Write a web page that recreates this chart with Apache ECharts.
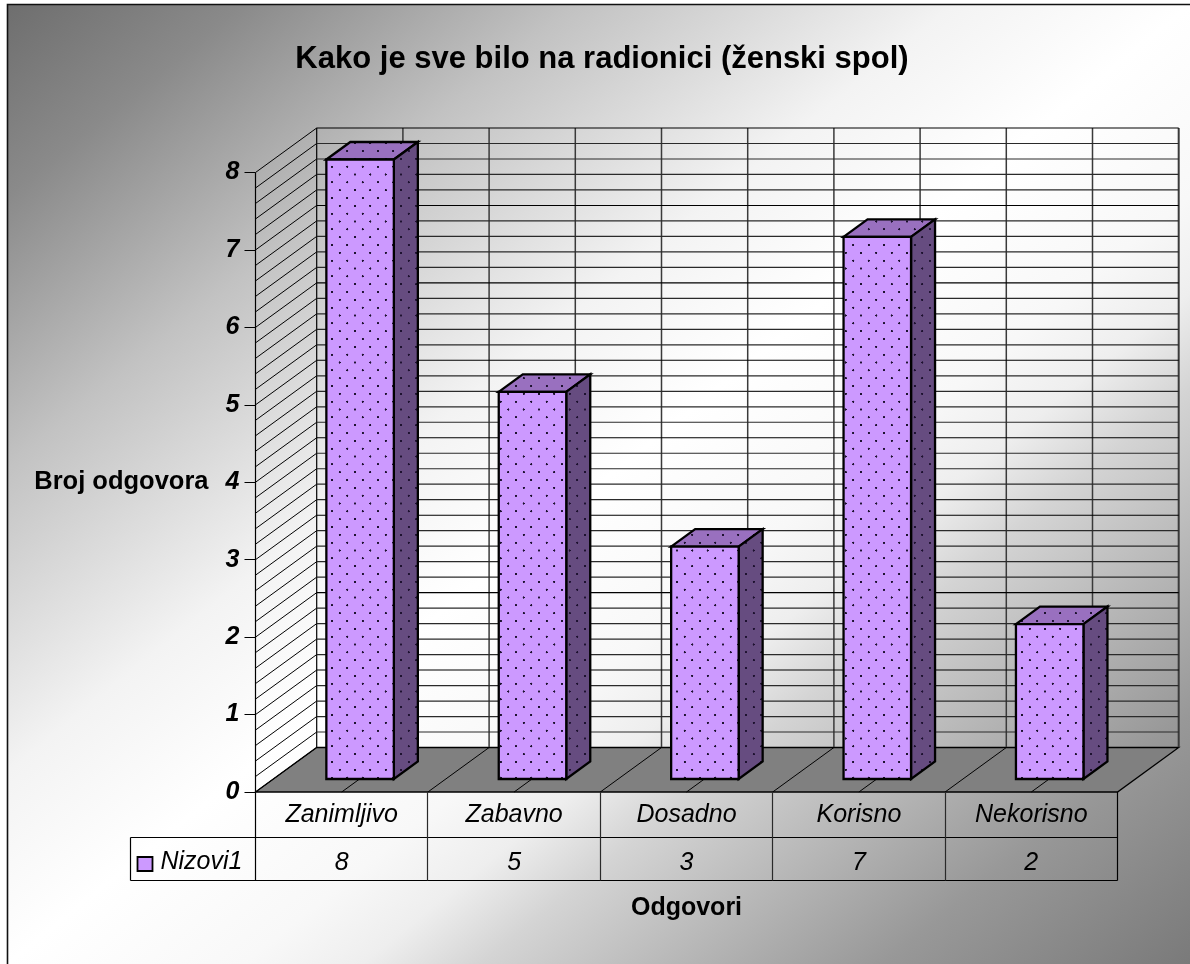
<!DOCTYPE html>
<html><head><meta charset="utf-8">
<style>html,body{margin:0;padding:0;background:#fff}#c{width:1190px;height:964px}</style>
<script src="https://cdn.jsdelivr.net/npm/echarts@6/dist/echarts.min.js"></script>
</head><body><div id="c"></div>
<script>
const titleText = 'Kako je sve bilo na radionici (ženski spol)';
const yAxisTitle = 'Broj odgovora';
const xAxisTitle = 'Odgovori';
const seriesName = 'Nizovi1';
const categories = ['Zanimljivo', 'Zabavno', 'Dosadno', 'Korisno', 'Nekorisno'];
const values = [8, 5, 3, 7, 2];
const yTicks = [0, 1, 2, 3, 4, 5, 6, 7, 8];
const minorPerUnit = 5;

const FONT = '"Liberation Sans", Arial, sans-serif';
const WALL = [61.2, -44.5], BAR_OFF = [18.4, -13], BAR_DEPTH = [24, -17.5], BAR_W = 67.5;
const ROW1 = 45.5, ROW2 = 88.5, KEY_LEFT = 130.5;

function dotted(base) {
  const c = document.createElement('canvas'); c.width = 46; c.height = 47;
  const g = c.getContext('2d');
  g.fillStyle = base; g.fillRect(0, 0, 46, 47);
  g.fillStyle = '#1e1230';
  [[6, 8], [29, 31.5]].forEach(p => { g.beginPath(); g.arc(p[0], p[1], 3.2, 0, 7); g.fill(); });
  return { image: c, repeat: 'repeat', scaleX: 1 / 3, scaleY: 1 / 3, x: 330, y: 164 };
}
const P_FRONT = dotted('#cc99ff'), P_SIDE = dotted('#664c80'), P_TOP = dotted('#9970bf');

function line(x1, y1, x2, y2, stroke, w) {
  return { type: 'line', silent: true, shape: { x1, y1, x2, y2 }, style: { stroke: stroke || '#000', lineWidth: w || 1 } };
}
function renderFrame(params, api) {
  const n = categories.length, kids = [];
  const o = api.coord([0, 0]), bw = api.size([1, 0])[0];
  const x0 = o[0] - bw / 2, y0 = o[1], x1 = x0 + bw * n;
  const top = api.coord([0, yTicks[yTicks.length - 1]])[1];
  kids.push({ type: 'polygon', silent: true, shape: { points: [[x0, y0], [x0 + WALL[0], y0 + WALL[1]], [x1 + WALL[0], y0 + WALL[1]], [x1, y0]] }, style: { fill: '#808080', stroke: '#000', lineWidth: 1.3 } });
  for (let i = 0; i <= n * 2; i++) {
    const x = x0 + bw * i / 2;
    if (i > 0 && i < n * 2) kids.push(line(x, y0, x + WALL[0], y0 + WALL[1], '#000', 1));
    kids.push(line(x + WALL[0], top + WALL[1], x + WALL[0], y0 + WALL[1], i === 0 ? '#000' : '#3a3a3a', i === 0 ? 1.2 : i === n * 2 ? 2 : 1.5));
  }
  const maxV = yTicks[yTicks.length - 1];
  for (let k = 0; k <= maxV * minorPerUnit; k++) {
    const y = api.coord([0, k / minorPerUnit])[1], major = k % minorPerUnit === 0;
    kids.push(line(x0, y, x0 + WALL[0], y + WALL[1], '#000', 1));
    kids.push(line(x0 + WALL[0], y + WALL[1], x1 + WALL[0], y + WALL[1], major ? '#000' : '#2a2a2a', major ? 1.1 : 1.2));
  }
  kids.push(line(x0, top, x0, y0, '#000', 1.2));
  kids.push(line(x0, y0 + ROW1, x1, y0 + ROW1, '#000', 1.2));
  kids.push(line(KEY_LEFT, y0 + ROW2, x1, y0 + ROW2, '#000', 1.2));
  kids.push(line(KEY_LEFT, y0 + ROW1, x0, y0 + ROW1, '#000', 1.2));
  kids.push(line(KEY_LEFT, y0 + ROW1, KEY_LEFT, y0 + ROW2, '#000', 1.2));
  for (let i = 0; i <= n; i++) {
    const x = Math.floor(x0 + bw * i) + .5;
    kids.push(line(x, y0, x, y0 + ROW2, i === 0 || i === n ? '#000' : '#2a2a2a', 1.2));
  }
  kids.push({ type: 'rect', silent: true, shape: { x: KEY_LEFT + 7, y: y0 + ROW1 + 19.5, width: 15, height: 14 }, style: { fill: '#cc99ff', stroke: '#000', lineWidth: 1.8 } });
  kids.push({ type: 'text', silent: true, x: KEY_LEFT + 30, y: y0 + ROW1 + 25, style: { text: seriesName, font: 'italic 25px ' + FONT, fill: '#000', verticalAlign: 'middle' } });
  return { type: 'group', children: kids };
}
function renderBar(params, api) {
  const base = api.coord([api.value(0), 0]), tip = api.coord([api.value(0), api.value(1)]);
  const l = base[0] + BAR_OFF[0] - BAR_W / 2, r = l + BAR_W;
  const b = base[1] + BAR_OFF[1], t = tip[1] + BAR_OFF[1];
  const dx = BAR_DEPTH[0], dy = BAR_DEPTH[1];
  const edge = { stroke: '#000', lineWidth: 2.3, lineJoin: 'miter' };
  return { type: 'group', children: [
    { type: 'polygon', shape: { points: [[l, t], [l + dx, t + dy], [r + dx, t + dy], [r, t]] }, style: Object.assign({ fill: P_TOP }, edge) },
    { type: 'polygon', shape: { points: [[r, t], [r + dx, t + dy], [r + dx, b + dy], [r, b]] }, style: Object.assign({ fill: P_SIDE }, edge) },
    { type: 'polygon', shape: { points: [[l, t], [r, t], [r, b], [l, b]] }, style: Object.assign({ fill: P_FRONT }, edge) }
  ] };
}

const W = 1183, H = 959, L2 = W * W + H * H, K = 2 * W * H / L2;
const chart = echarts.init(document.getElementById('c'), null, { renderer: 'canvas' });
chart.setOption({
  animation: false,
  backgroundColor: '#fff',
  graphic: [{
    type: 'rect', z: -10, silent: true,
    shape: { x: 7.5, y: 4.5, width: 1300, height: 1100 },
    style: {
      fill: new echarts.graphic.LinearGradient(7, 5, 7 + H * K, 5 + W * K, [
        { offset: 0, color: '#6e6e6e' }, { offset: 0.1, color: '#8a8a8a' }, { offset: 0.24, color: '#c2c2c2' },
        { offset: 0.4, color: '#f3f3f3' }, { offset: 0.5, color: '#ffffff' }, { offset: 0.6, color: '#f8f8f8' },
        { offset: 0.65, color: '#eeeeee' }, { offset: 0.7, color: '#d4d4d4' }, { offset: 0.87, color: '#989898' },
        { offset: 1, color: '#7a7a7a' }
      ], true),
      stroke: '#111', lineWidth: 1.6
    }
  }],
  title: { text: titleText, left: 597, top: 39, textAlign: 'center',
    textStyle: { fontFamily: FONT, fontSize: 31, fontWeight: 'bold', color: '#000' } },
  grid: { left: 255.5, top: 172.5, width: 862, height: 619.5, containLabel: false },
  xAxis: [{
    type: 'category', data: categories, position: 'bottom',
    axisLine: { show: false }, axisTick: { show: false }, splitLine: { show: false },
    axisLabel: { margin: 11, fontFamily: FONT, fontSize: 25, fontStyle: 'italic', color: '#000', interval: 0 },
    name: xAxisTitle, nameLocation: 'middle', nameGap: 104,
    nameTextStyle: { fontFamily: FONT, fontSize: 25, fontWeight: 'bold', color: '#000' }
  }, {
    type: 'category', data: values.map(String), position: 'bottom', offset: 46,
    axisLine: { show: false }, axisTick: { show: false }, splitLine: { show: false },
    axisLabel: { margin: 13, fontFamily: FONT, fontSize: 25, fontStyle: 'italic', color: '#000', interval: 0 }
  }],
  yAxis: {
    type: 'value', min: 0, max: yTicks[yTicks.length - 1], interval: 1,
    axisLine: { show: false }, splitLine: { show: false },
    axisTick: { show: true, length: 11, lineStyle: { color: '#000', width: 1 } },
    axisLabel: { margin: 16, fontFamily: FONT, fontSize: 25, fontStyle: 'italic', fontWeight: 'bold', color: '#000' },
    name: yAxisTitle, nameLocation: 'middle', nameRotate: 0, nameGap: 47,
    nameTextStyle: { fontFamily: FONT, fontSize: 25.5, fontWeight: 'bold', color: '#000' }
  },
  series: [
    { type: 'custom', z: 1, silent: true, xAxisIndex: 0, coordinateSystem: 'cartesian2d', renderItem: renderFrame, data: [[0, 0]], encode: { x: 0, y: 1 } },
    { type: 'custom', z: 2, name: seriesName, xAxisIndex: 0, coordinateSystem: 'cartesian2d', renderItem: renderBar,
      data: values.map((v, i) => [i, v]), encode: { x: 0, y: 1 } }
  ]
});
</script></body></html>
